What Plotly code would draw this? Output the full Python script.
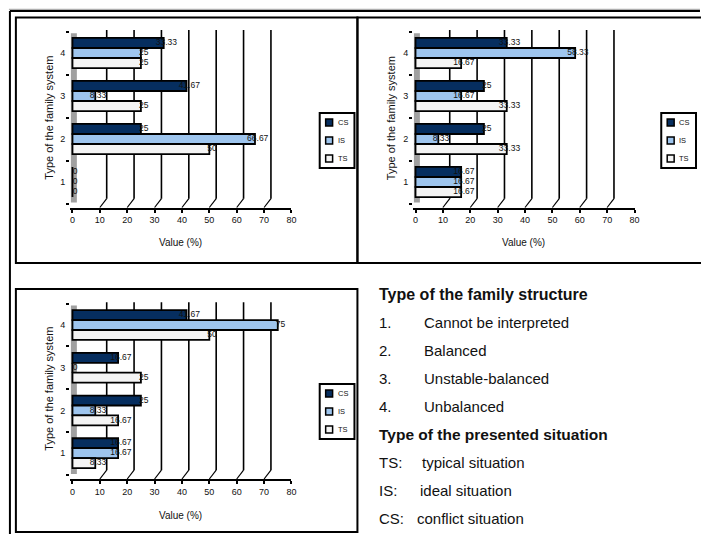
import plotly.graph_objects as go

W, H = 701, 534

# ---------------- data ----------------
categories = [1, 2, 3, 4]
category_labels = ["1", "2", "3", "4"]
series_names = ["CS", "IS", "TS"]
series_colors = ["#062e5f", "#9ec5ee", "#f4f4f4"]
x_tick_values = [0, 10, 20, 30, 40, 50, 60, 70, 80]
x_tick_labels = ["0", "10", "20", "30", "40", "50", "60", "70", "80"]

panel_a_cs = [0, 25, 41.67, 33.33]
panel_a_is = [0, 66.67, 8.33, 25]
panel_a_ts = [0, 50, 25, 25]

panel_b_cs = [16.67, 25, 25, 33.33]
panel_b_is = [16.67, 8.33, 16.67, 58.33]
panel_b_ts = [16.67, 33.33, 33.33, 16.67]

panel_c_cs = [16.67, 25, 16.67, 41.67]
panel_c_is = [16.67, 8.33, 0, 75]
panel_c_ts = [8.33, 16.67, 25, 50]

y_title = "Type of the family system"
x_title = "Value (%)"

side_header_1 = "Type of the family structure"
structure_numbers = ["1.", "2.", "3.", "4."]
structure_names = ["Cannot be interpreted", "Balanced", "Unstable-balanced", "Unbalanced"]
side_header_2 = "Type of the presented situation"
situation_codes = ["TS:", "IS:", "CS:"]
situation_names = ["typical situation", "ideal situation", "conflict situation"]

# ---------------- helpers ----------------
def PX(p):
    return p / W


def PY(p):
    return 1 - p / H


FONT = "Liberation Sans, Arial, sans-serif"
S = 2.757  # px per value unit
XMIN = -0.8
BAR_W = 0.233
SHIFTS = [BAR_W, 0.0, -BAR_W]  # CS top, IS middle, TS bottom

panels = [
    dict(values=[panel_a_cs, panel_a_is, panel_a_ts], zero=73.0, top=31.5, bottom=207.5, band=43.0,
         ytitle=(49, 118), xtitle=(182, 242), legend=(322, 113), suffix=""),
    dict(values=[panel_b_cs, panel_b_is, panel_b_ts], zero=418.5, top=31.5, bottom=207.5, band=43.0,
         ytitle=(394, 118), xtitle=(527, 242), legend=(666, 113), suffix="2"),
    dict(values=[panel_c_cs, panel_c_is, panel_c_ts], zero=73.0, top=303.7, bottom=479.0, band=42.7,
         ytitle=(49, 389), xtitle=(182, 515), legend=(322, 384), suffix="3"),
]

fig = go.Figure()
shapes = []
annotations = []
layout_axes = {}

for p in panels:
    sx = p["suffix"]
    xa = "x" + sx
    ya = "y" + sx
    left = p["zero"] + XMIN * S
    right = p["zero"] + 80 * S
    ylow = 4.5 - (p["bottom"] - p["top"]) / p["band"]

    for vals, name, color, shift in zip(p["values"], series_names, series_colors, SHIFTS):
        fig.add_trace(go.Bar(
            x=vals, y=categories, orientation="h", width=BAR_W, offset=shift - BAR_W / 2,
            marker=dict(color=color, line=dict(color="black", width=1.8)),
            xaxis=xa, yaxis=ya, showlegend=False, hoverinfo="skip", name=name,
        ))
    for vals, shift in zip(p["values"], SHIFTS):
        fig.add_trace(go.Scatter(
            x=[v + 1.0 for v in vals], y=[c + shift for c in categories], mode="text",
            text=[f"{v:g}" for v in vals], textposition="middle center",
            textfont=dict(family=FONT, size=8.5, color="#111"),
            xaxis=xa, yaxis=ya, showlegend=False, hoverinfo="skip",
        ))

    layout_axes["xaxis" + sx] = dict(
        domain=[PX(left), PX(right)], range=[XMIN, 80], anchor=ya,
        tickmode="array", tickvals=x_tick_values, ticktext=x_tick_labels,
        ticks="outside", ticklen=3, tickwidth=1.5, tickcolor="black",
        showline=True, linewidth=2, linecolor="black",
        showgrid=False, zeroline=False, fixedrange=True,
        tickfont=dict(family=FONT, size=9, color="#111"),
    )
    layout_axes["yaxis" + sx] = dict(
        domain=[PY(p["bottom"]), PY(p["top"])], range=[ylow, 4.5], anchor=xa,
        tickmode="array", tickvals=categories, ticktext=category_labels,
        ticks="", showline=False, showgrid=False, zeroline=False, fixedrange=True,
        ticklabelstandoff=4,
        tickfont=dict(family=FONT, size=9, color="#111"),
        minor=dict(tickmode="array", tickvals=[0.5, 1.5, 2.5, 3.5, 4.5], ticks="outside",
                   ticklen=3, tickwidth=1.5, tickcolor="black"),
    )

    xr = xa
    yr = ya + " domain"
    # back wall
    shapes.append(dict(type="rect", xref=xr, yref=yr, x0=-0.6, x1=1.6, y0=0.028, y1=0.99,
                       fillcolor="#a0a0a0", line=dict(width=0), layer="below"))
    # grid lines (shifted by depth) and depth connectors
    for k in x_tick_values[1:-1]:
        shapes.append(dict(type="line", xref=xr, yref=yr, x0=k + 2.5, x1=k + 2.5, y0=0.05, y1=1.008,
                           line=dict(color="black", width=1.6), layer="below"))
        shapes.append(dict(type="line", xref=xr, yref=yr, x0=k, x1=k + 2.5, y0=0.0, y1=0.05,
                           line=dict(color="black", width=1.2), layer="below"))

    # axis titles
    tx, ty = p["ytitle"]
    annotations.append(dict(text=y_title, x=PX(tx), y=PY(ty), xref="paper", yref="paper",
                            showarrow=False, textangle=-90, xanchor="center", yanchor="middle",
                            font=dict(family=FONT, size=11, color="#111")))
    tx, ty = p["xtitle"]
    annotations.append(dict(text=x_title, x=PX(tx), y=PY(ty), xref="paper", yref="paper",
                            showarrow=False, xanchor="center", yanchor="middle",
                            font=dict(family=FONT, size=10, color="#111")))

    # custom legend box
    lx, ly = p["legend"]
    shapes.append(dict(type="rect", xref="paper", yref="paper", x0=PX(lx), x1=PX(lx + 35),
                       y0=PY(ly + 55), y1=PY(ly), line=dict(color="black", width=2)))
    for i, (name, color) in enumerate(zip(series_names, series_colors)):
        cy = ly + 9.5 + 18 * i
        shapes.append(dict(type="rect", xref="paper", yref="paper", x0=PX(lx + 6), x1=PX(lx + 13),
                           y0=PY(cy + 3.5), y1=PY(cy - 3.5), fillcolor=color,
                           line=dict(color="black", width=1.5)))
        annotations.append(dict(text=name, x=PX(lx + 16), y=PY(cy), xref="paper", yref="paper",
                                showarrow=False, xanchor="left", yanchor="middle",
                                font=dict(family=FONT, size=7.5, color="#111")))

# panel frames
frame = dict(color="black", width=2)
shapes.append(dict(type="line", xref="paper", yref="paper", x0=PX(9), x1=PX(705), y0=PY(9.3), y1=PY(9.3),
                   line=dict(color="#9a9a9a", width=1)))
shapes.append(dict(type="line", xref="paper", yref="paper", x0=PX(10), x1=PX(705), y0=PY(11), y1=PY(11),
                   line=frame))
shapes.append(dict(type="line", xref="paper", yref="paper", x0=PX(10), x1=PX(10), y0=PY(11), y1=PY(540),
                   line=frame))
shapes.append(dict(type="rect", xref="paper", yref="paper", x0=PX(16), x1=PX(360), y0=PY(263), y1=PY(17.5),
                   line=frame))
shapes.append(dict(type="rect", xref="paper", yref="paper", x0=PX(360), x1=PX(710), y0=PY(263), y1=PY(17.5),
                   line=frame))
shapes.append(dict(type="rect", xref="paper", yref="paper", x0=PX(16), x1=PX(360), y0=PY(532), y1=PY(289),
                   line=frame))

# side text panel
def side_text(text, x, y, size=15, bold=False):
    annotations.append(dict(text=f"<b>{text}</b>" if bold else text, x=PX(x), y=PY(y),
                            xref="paper", yref="paper", showarrow=False,
                            xanchor="left", yanchor="middle",
                            font=dict(family=FONT, size=size, color="#111")))

side_text(side_header_1, 380, 294, size=16, bold=True)
for i, (num, name) in enumerate(zip(structure_numbers, structure_names)):
    yy = 322 + 28 * i
    side_text(num, 380, yy)
    side_text(name, 425, yy)
side_text(side_header_2, 380, 434, size=15.5, bold=True)
text_x = [423, 421, 418]
for i, (code, name) in enumerate(zip(situation_codes, situation_names)):
    yy = 462 + 28 * i
    side_text(code, 380, yy)
    side_text(name, text_x[i], yy)

fig.update_layout(
    width=W, height=H, margin=dict(l=0, r=0, t=0, b=0),
    paper_bgcolor="white", plot_bgcolor="white",
    barmode="overlay", showlegend=False,
    shapes=shapes, annotations=annotations,
    **layout_axes,
)

fig.write_html("out.html")
